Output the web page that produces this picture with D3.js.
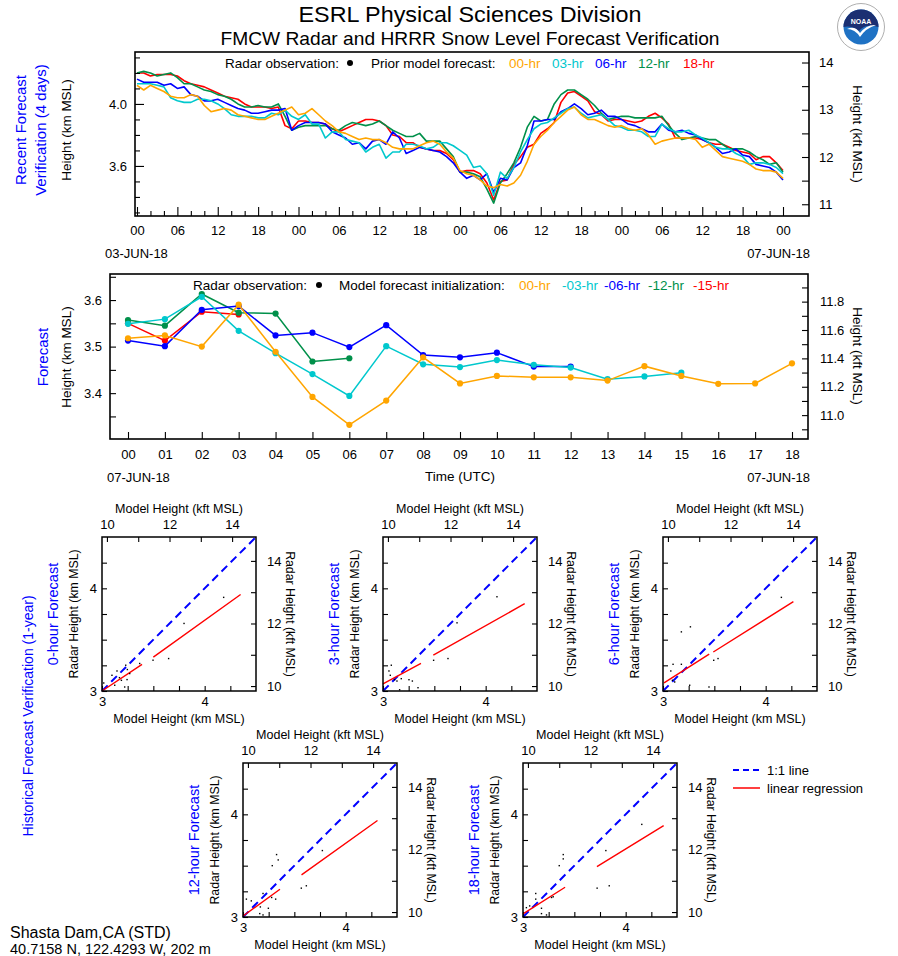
<!DOCTYPE html>
<html><head><meta charset="utf-8">
<script src="https://cdn.jsdelivr.net/npm/d3@7/dist/d3.min.js"></script>
<style>
body{margin:0;background:#fff;}
svg text{font-family:"Liberation Sans",Arial,Helvetica,sans-serif;}
</style></head>
<body><svg id="chart" width="898" height="956"></svg>
<script>
// ================= DATA =================
const KM_PER_KFT = 0.3048;
const seriesColors = ["#ffa500", "#00c8cd", "#0000ff", "#00904a", "#ff0000"];
const topNames = ["00-hr", "03-hr", "06-hr", "12-hr", "18-hr"];
const midNames = ["00-hr", "-03-hr", "-06-hr", "-12-hr", "-15-hr"];

// Recent forecast verification: hourly, 03-JUN-18 00Z .. 07-JUN-18 00Z (km MSL)
const topHours = d3.range(0, 97);
const topF00 = [4.12,4.09,4.12,4.10,4.08,4.05,4.04,4.04,4.06,4.05,
  3.99,3.95,3.96,3.97,3.96,3.93,3.92,3.91,3.90,3.90,
  3.92,3.94,3.96,3.98,3.93,3.94,3.97,3.93,3.89,3.86,
  3.82,3.81,3.79,3.77,3.78,3.77,3.77,3.75,3.72,3.71,
  3.71,3.71,3.73,3.75,3.76,3.74,3.69,3.65,3.57,3.55,
  3.54,3.51,3.47,3.46,3.48,3.47,3.49,3.54,3.63,3.74,
  3.79,3.83,3.88,3.92,3.96,3.98,3.93,3.90,3.90,3.88,
  3.86,3.85,3.86,3.84,3.83,3.84,3.80,3.74,3.76,3.77,
  3.78,3.78,3.78,3.77,3.72,3.74,3.70,3.66,3.65,3.64,
  3.63,3.61,3.58,3.57,3.57,3.56,3.52];
const topF03 = [4.13,4.13,4.13,4.12,4.11,4.04,4.02,4.01,4.01,4.03,
  4.03,4.02,4.00,3.97,3.93,3.92,3.92,3.92,3.91,3.91,
  3.94,3.93,3.96,3.92,3.90,3.93,3.87,3.87,3.78,3.82,
  3.82,3.77,3.76,3.75,3.69,3.72,3.74,3.65,3.69,3.69,
  3.74,3.74,3.73,3.71,3.72,3.75,3.75,3.73,3.70,3.67,
  3.59,3.60,3.55,3.41,3.56,3.52,3.59,3.69,3.77,3.84,
  3.87,3.88,3.91,3.94,3.97,3.98,3.94,3.91,3.92,3.93,
  3.90,3.86,3.85,3.83,3.83,3.82,3.79,3.79,3.87,3.84,
  3.82,3.82,3.83,3.80,3.78,3.75,3.72,3.71,3.71,3.68,
  3.66,3.61,3.62,3.62,3.61,3.59,3.55];
const topF06 = [4.16,4.14,4.14,4.14,4.12,4.13,4.10,4.11,4.06,4.05,
  4.02,4.02,4.03,4.01,3.99,3.97,3.96,3.94,3.94,3.95,
  3.96,3.96,3.97,3.83,3.86,3.88,3.88,3.88,3.87,3.82,
  3.80,3.78,3.74,3.75,3.71,3.76,3.77,3.74,3.82,3.78,
  3.68,3.70,3.72,3.71,3.70,3.69,3.66,3.62,3.56,3.52,
  3.54,3.51,3.55,3.43,3.52,3.51,3.59,3.62,3.73,3.89,
  3.89,3.90,3.90,3.95,3.97,4.00,3.97,3.93,3.94,3.96,
  3.92,3.92,3.90,3.87,3.86,3.84,3.82,3.82,3.87,3.83,
  3.82,3.83,3.81,3.80,3.77,3.75,3.72,3.68,3.69,3.71,
  3.67,3.66,3.61,3.60,3.59,3.56,3.51];
const topF12 = [4.20,4.21,4.20,4.18,4.19,4.20,4.17,4.13,4.13,4.11,
  4.09,4.08,4.06,4.05,4.03,4.00,3.98,3.98,3.99,3.98,
  3.98,4.00,3.92,3.83,3.85,3.86,3.86,3.86,3.86,3.84,
  3.83,3.86,3.88,3.87,3.86,3.87,3.89,3.86,3.83,3.81,
  3.79,3.79,3.81,3.76,3.76,3.76,3.71,3.66,3.56,3.56,
  3.55,3.53,3.45,3.36,3.49,3.55,3.62,3.72,3.85,3.92,
  3.89,3.90,4.00,4.06,4.09,4.09,4.06,4.03,3.99,3.94,
  3.90,3.91,3.92,3.92,3.91,3.91,3.91,3.91,3.92,3.86,
  3.81,3.77,3.78,3.79,3.78,3.77,3.77,3.74,3.71,3.71,
  3.71,3.69,3.66,3.64,3.61,3.62,3.56];
const topF18 = [4.20,4.20,4.18,4.19,4.19,4.19,4.18,4.15,4.13,4.12,
  4.11,4.09,4.07,4.05,4.04,4.03,4.00,3.98,3.98,3.98,
  3.97,3.98,3.86,3.84,3.89,3.89,3.88,3.88,3.87,3.84,
  3.82,3.84,3.86,3.88,3.90,3.90,3.89,3.86,3.80,3.79,
  3.75,3.75,3.72,3.71,3.70,3.70,3.68,3.64,3.56,3.57,
  3.57,3.55,3.49,3.38,3.50,3.51,3.61,3.66,3.72,3.74,
  3.81,3.84,3.88,4.01,4.07,4.08,4.05,4.02,3.95,3.93,
  3.89,3.90,3.90,3.89,3.88,3.89,3.92,3.94,3.91,3.87,
  3.78,3.78,3.78,3.78,3.77,3.75,3.74,3.74,3.72,3.70,
  3.69,3.68,3.64,3.66,3.66,3.62,3.57];

// Forecast: 07-JUN-18 00Z .. 18Z, by model initialization (km MSL)
const midHours = d3.range(0, 19);
const midF00 = [3.518,3.524,3.500,3.590,3.489,3.392,3.332,3.384,3.477,3.421,3.437,3.434,3.434,3.427,3.458,3.437,3.420,3.421,3.464];
const midF03 = [3.549,3.559,3.607,3.534,3.486,3.441,3.394,3.501,3.462,3.456,3.471,3.461,3.455,3.430,3.436,3.444];
const midF06 = [3.513,3.501,3.579,3.587,3.524,3.530,3.499,3.546,3.482,3.477,3.487,3.457,3.457];
const midF12 = [3.557,3.545,3.613,3.573,3.571,3.468,3.475];
const midF15 = [3.550,3.513,3.575,3.569];

// Historical verification scatter (model km, radar km) and regression lines
const panelNames = ["0-hour Forecast", "3-hour Forecast", "6-hour Forecast", "12-hour Forecast", "18-hour Forecast"];
const sc0x = [3.017,3.097,3.124,3.146,3.170,3.189,3.221,3.231,3.244,3.247,3.270,3.367,3.497,3.649,3.799,4.185];
const sc0y = [3.078,3.153,3.056,3.195,3.130,3.104,3.039,3.251,3.111,3.209,3.170,3.268,3.300,3.316,3.658,3.912];
const sc3x = [3.058,3.071,3.081,3.113,3.136,3.162,3.178,3.253,3.286,3.341,3.493,3.633,3.721,4.110];
const sc3y = [3.195,3.153,3.251,3.110,3.097,3.012,3.120,3.110,3.097,3.032,3.299,3.316,3.664,3.918];
const sc6x = [3.076,3.092,3.098,3.114,3.179,3.179,3.260,3.267,3.448,3.494,3.536,4.153];
const sc6y = [3.195,3.104,3.260,3.088,3.260,3.576,3.056,3.625,3.039,3.299,3.316,3.912];
const sc12x = [3.033,3.081,3.163,3.169,3.195,3.195,3.247,3.279,3.285,3.318,3.327,3.343,3.568,3.617,3.773];
const sc12y = [3.174,3.157,3.033,3.098,3.020,3.229,3.085,3.190,3.500,3.174,3.608,3.556,3.281,3.304,3.647];
const sc18x = [3.033,3.065,3.124,3.124,3.180,3.180,3.229,3.278,3.294,3.353,3.392,3.392,3.722,3.807,3.840,4.157];
const sc18y = [3.091,3.108,3.174,3.229,3.085,3.033,3.020,3.190,3.197,3.500,3.566,3.608,3.281,3.647,3.304,3.902];
const reg0x = [3.00,3.39,null,3.50,4.35],  reg0y = [3.00,3.26,null,3.33,3.94];
const reg3x = [3.00,3.37,null,3.49,4.38],  reg3y = [3.07,3.27,null,3.35,3.85];
const reg6x = [3.01,3.45,null,3.49,4.27],  reg6y = [3.08,3.36,null,3.38,3.87];
const reg12x = [3.00,3.36,null,3.57,4.31], reg12y = [3.01,3.27,null,3.41,3.94];
const reg18x = [3.00,3.41,null,3.72,4.37], reg18y = [3.03,3.29,null,3.49,3.89];

// ================= DRAWING =================
const svg = d3.select("#chart");
const BLUE_TXT = "#0000ff";

function label(x, y, s, o = {}) {
  const t = svg.append("text").attr("x", x).attr("y", y).text(s)
    .attr("font-size", o.size || 13.5).attr("fill", o.color || "#000")
    .attr("text-anchor", o.anchor || "start").attr("dominant-baseline", "central");
  if (o.rot) t.attr("transform", `rotate(${o.rot},${x},${y})`);
  if (o.len) t.attr("textLength", o.len).attr("lengthAdjust", "spacingAndGlyphs");
  return t;
}
function styleAxis(g, fs) {
  g.attr("font-family", null).attr("font-size", null);
  g.select(".domain").remove();
  g.selectAll(".tick text").attr("font-size", fs || 13).attr("fill", "#000");
  g.selectAll(".tick line").attr("stroke", "#000").attr("stroke-width", 1.1);
  return g;
}
function frame(l, t, r, b, w) {
  svg.append("rect").attr("x", l).attr("y", t).attr("width", r - l).attr("height", b - t)
    .attr("fill", "none").attr("stroke", "#000").attr("stroke-width", w || 1.6);
}
const near = (a, b) => Math.abs(a - b) < 1e-6;

// ---- Titles ----
label(470, 14, "ESRL Physical Sciences Division", {size: 22, anchor: "middle", len: 343});
label(470, 38, "FMCW Radar and HRRR Snow Level Forecast Verification", {size: 19, anchor: "middle", len: 499});

// ---- NOAA logo ----
(function () {
  const cx = 861, cy = 27, g = svg.append("g");
  g.append("circle").attr("cx", cx).attr("cy", cy).attr("r", 23.5).attr("fill", "#fff").attr("stroke", "#9a9a9a").attr("stroke-width", 0.8);
  g.append("circle").attr("cx", cx).attr("cy", cy).attr("r", 17.5).attr("fill", "#1f72c4");
  g.append("path").attr("d", `M${cx-17.5},${cy} A17.5,17.5 0 0 1 ${cx+17.5},${cy} Q${cx+4},${cy-4} ${cx-2},${cy+4} Q${cx-10},${cy-2} ${cx-17.5},${cy} Z`).attr("fill", "#1b2f72");
  g.append("path").attr("d", `M${cx-14},${cy+2} Q${cx-6},${cy-2} ${cx-1},${cy+6} Q${cx+6},${cy-3} ${cx+15},${cy-2} Q${cx+5},${cy+1} ${cx-1},${cy+10} Q${cx-6},${cy+2} ${cx-14},${cy+2} Z`).attr("fill", "#fff");
  g.append("text").attr("x", cx).attr("y", cy - 6).attr("text-anchor", "middle").attr("dominant-baseline", "central")
    .attr("font-size", 7).attr("font-weight", "bold").attr("fill", "#fff").text("NOAA");
})();

// ================= TOP CHART =================
const TB = {l: 135, r: 809, t: 52, b: 216};
const xT = d3.scaleLinear().domain([0, 96]).range([137, 783]);
const yT = d3.scaleLinear().domain([3.277, 4.335]).range([TB.b, TB.t]);
const yTk = d3.scaleLinear().domain([3.277 / KM_PER_KFT, 4.335 / KM_PER_KFT]).range([TB.b, TB.t]);
const topSeries = [topF00, topF03, topF06, topF12, topF18];
[4, 3, 2, 1, 0].forEach(k => {
  const pts = topSeries[k].map((v, i) => [xT(topHours[i]), yT(v)]);
  svg.append("path").attr("d", d3.line()(pts)).attr("fill", "none")
    .attr("stroke", seriesColors[k]).attr("stroke-width", 1.6).attr("stroke-linejoin", "round");
});
styleAxis(svg.append("g").attr("transform", `translate(0,${TB.b})`)
  .call(d3.axisBottom(xT).tickValues(d3.range(0, 97, 2)).tickSize(-5).tickPadding(10)
    .tickFormat(h => h % 6 === 0 ? d3.format("02d")(h % 24) : "")))
  .selectAll(".tick line").attr("y2", h => h % 6 === 0 ? -9 : -5);
styleAxis(svg.append("g").attr("transform", `translate(${TB.l},0)`)
  .call(d3.axisLeft(yT).tickValues([3.3,3.4,3.5,3.6,3.7,3.8,3.9,4.0,4.1,4.2,4.3]).tickSize(-5).tickPadding(8)
    .tickFormat(v => (near(v, 3.6) || near(v, 4.0)) ? d3.format(".1f")(v) : "")))
  .selectAll(".tick line").attr("x2", v => (near(v, 3.6) || near(v, 4.0)) ? 9 : 5);
styleAxis(svg.append("g").attr("transform", `translate(${TB.r},0)`)
  .call(d3.axisRight(yTk).tickValues([11, 11.5, 12, 12.5, 13, 13.5, 14]).tickSize(-7).tickPadding(10)
    .tickFormat(v => v % 1 === 0 ? v : "")));
frame(TB.l, TB.t, TB.r, TB.b);

// legend
label(225, 63, "Radar observation:");
svg.append("circle").attr("cx", 350).attr("cy", 63).attr("r", 3).attr("fill", "#000");
label(371, 63, "Prior model forecast:");
[509, 552, 595, 638, 683].forEach((x, k) => label(x, 63, topNames[k], {color: seriesColors[k]}));

label(20, 130, "Recent Forecast", {rot: -90, anchor: "middle", color: BLUE_TXT, size: 15});
label(40, 130, "Verification (4 days)", {rot: -90, anchor: "middle", color: BLUE_TXT, size: 15});
label(66, 130, "Height (km MSL)", {rot: -90, anchor: "middle"});
label(857, 134, "Height (kft MSL)", {rot: 90, anchor: "middle"});
label(105, 253, "03-JUN-18", {size: 13});
label(810, 253, "07-JUN-18", {size: 13, anchor: "end"});

// ================= MIDDLE CHART =================
const MB = {l: 110, r: 808, t: 274, b: 439};
const xM = d3.scaleLinear().domain([0, 18]).range([128, 792]);
const yM = d3.scaleLinear().domain([3.3015, 3.656]).range([MB.b, MB.t]);
const yMk = d3.scaleLinear().domain([3.3015 / KM_PER_KFT, 3.656 / KM_PER_KFT]).range([MB.b, MB.t]);
const midSeries = [midF00, midF03, midF06, midF12, midF15];
[4, 3, 2, 1, 0].forEach(k => {
  const pts = midSeries[k].map((v, i) => [xM(midHours[i]), yM(v)]);
  svg.append("path").attr("d", d3.line()(pts)).attr("fill", "none")
    .attr("stroke", seriesColors[k]).attr("stroke-width", 1.5);
  svg.append("g").selectAll("circle").data(pts).join("circle")
    .attr("cx", d => d[0]).attr("cy", d => d[1]).attr("r", 3.1).attr("fill", seriesColors[k]);
});
styleAxis(svg.append("g").attr("transform", `translate(0,${MB.b})`)
  .call(d3.axisBottom(xM).tickValues(midHours).tickSize(-7).tickPadding(11).tickFormat(d3.format("02d"))));
styleAxis(svg.append("g").attr("transform", `translate(${MB.l},0)`)
  .call(d3.axisLeft(yM).tickValues([3.35, 3.4, 3.45, 3.5, 3.55, 3.6, 3.65]).tickSize(-6).tickPadding(8)
    .tickFormat(v => (near(v, 3.4) || near(v, 3.5) || near(v, 3.6)) ? d3.format(".1f")(v) : "")));
styleAxis(svg.append("g").attr("transform", `translate(${MB.r},0)`)
  .call(d3.axisRight(yMk).tickValues([10.9, 11.0, 11.1, 11.2, 11.3, 11.4, 11.5, 11.6, 11.7, 11.8, 11.9]).tickSize(-6).tickPadding(12)
    .tickFormat(v => [11.0, 11.2, 11.4, 11.6, 11.8].some(u => near(u, v)) ? d3.format(".1f")(v) : "")));
frame(MB.l, MB.t, MB.r, MB.b);

label(193, 285, "Radar observation:");
svg.append("circle").attr("cx", 319).attr("cy", 285).attr("r", 3).attr("fill", "#000");
label(339, 285, "Model forecast initialization:");
[519, 562, 604, 648, 693].forEach((x, k) => label(x, 285, midNames[k], {color: seriesColors[k]}));

label(42, 357, "Forecast", {rot: -90, anchor: "middle", color: BLUE_TXT, size: 15});
label(66, 357, "Height (km MSL)", {rot: -90, anchor: "middle"});
label(857, 356, "Height (kft MSL)", {rot: 90, anchor: "middle"});
label(107, 477, "07-JUN-18", {size: 13});
label(810, 477, "07-JUN-18", {size: 13, anchor: "end"});
label(460, 476, "Time (UTC)", {anchor: "middle"});

// ================= SCATTER PANELS =================
const S = 154;
function panel(L, T, name, dx, dy, rx, ry) {
  const x = d3.scaleLinear().domain([3, 4.5]).range([L, L + S]);
  const y = d3.scaleLinear().domain([3, 4.5]).range([T + S, T]);
  const xk = d3.scaleLinear().domain([3 / KM_PER_KFT, 4.5 / KM_PER_KFT]).range([L, L + S]);
  const yk = d3.scaleLinear().domain([3 / KM_PER_KFT, 4.5 / KM_PER_KFT]).range([T + S, T]);
  const kmTicks = [3, 3.25, 3.5, 3.75, 4, 4.25];
  const kftTicks = [10, 11, 12, 13, 14];
  const kmFmt = v => v % 1 === 0 ? String(v) : "";
  const kftFmt = v => v % 2 === 0 ? String(v) : "";
  styleAxis(svg.append("g").attr("transform", `translate(0,${T + S})`)
    .call(d3.axisBottom(x).tickValues(kmTicks).tickSize(-5).tickPadding(6).tickFormat(kmFmt)));
  styleAxis(svg.append("g").attr("transform", `translate(0,${T})`)
    .call(d3.axisTop(xk).tickValues(kftTicks).tickSize(-5).tickPadding(8).tickFormat(kftFmt)));
  styleAxis(svg.append("g").attr("transform", `translate(${L},0)`)
    .call(d3.axisLeft(y).tickValues(kmTicks).tickSize(-5).tickPadding(5).tickFormat(kmFmt)));
  styleAxis(svg.append("g").attr("transform", `translate(${L + S},0)`)
    .call(d3.axisRight(yk).tickValues(kftTicks).tickSize(-5).tickPadding(11).tickFormat(kftFmt)));
  svg.append("path").attr("d", d3.line()([[x(3), y(3)], [x(4.5), y(4.5)]]))
    .attr("stroke", "#0000ff").attr("stroke-width", 2).attr("stroke-dasharray", "8,5").attr("fill", "none");
  const rp = rx.map((v, i) => [v, ry[i]]);
  svg.append("path").attr("d", d3.line().defined(d => d[0] != null).x(d => x(d[0])).y(d => y(d[1]))(rp))
    .attr("stroke", "#ff0000").attr("stroke-width", 1.4).attr("fill", "none");
  svg.append("g").selectAll("rect").data(dx.map((v, i) => [v, dy[i]])).join("rect")
    .attr("x", d => x(d[0]) - 0.7).attr("y", d => y(d[1]) - 0.7).attr("width", 1.4).attr("height", 1.4).attr("fill", "#000");
  frame(L, T, L + S, T + S, 1.5);
  const cy = T + S / 2;
  label(L + S / 2, T - 28, "Model Height (kft MSL)", {anchor: "middle", size: 12.5});
  label(L + S / 2, T + S + 28, "Model Height (km MSL)", {anchor: "middle", size: 12.5});
  label(L - 28, cy, "Radar Height (km MSL)", {rot: -90, anchor: "middle", size: 12.3});
  label(L + S + 34, cy, "Radar Height (kft MSL)", {rot: 90, anchor: "middle", size: 12.3});
  label(L - 49, cy, name, {rot: -90, anchor: "middle", color: BLUE_TXT, size: 14.5});
}
panel(102, 537, panelNames[0], sc0x, sc0y, reg0x, reg0y);
panel(383, 537, panelNames[1], sc3x, sc3y, reg3x, reg3y);
panel(663, 537, panelNames[2], sc6x, sc6y, reg6x, reg6y);
panel(243, 763, panelNames[3], sc12x, sc12y, reg12x, reg12y);
panel(523, 763, panelNames[4], sc18x, sc18y, reg18x, reg18y);

label(28, 716, "Historical Forecast Verification (1-year)", {rot: -90, anchor: "middle", color: BLUE_TXT, size: 14});

// scatter legend
svg.append("line").attr("x1", 733).attr("x2", 760).attr("y1", 770).attr("y2", 770)
  .attr("stroke", "#0000ff").attr("stroke-width", 2).attr("stroke-dasharray", "6,4");
label(767, 770, "1:1 line", {size: 13});
svg.append("line").attr("x1", 733).attr("x2", 760).attr("y1", 788).attr("y2", 788)
  .attr("stroke", "#ff0000").attr("stroke-width", 1.5);
label(767, 788, "linear regression", {size: 13});

// station
label(10, 932, "Shasta Dam,CA (STD)", {size: 16});
label(10, 949, "40.7158 N, 122.4293 W, 202 m", {size: 14.5});
</script></body></html>
